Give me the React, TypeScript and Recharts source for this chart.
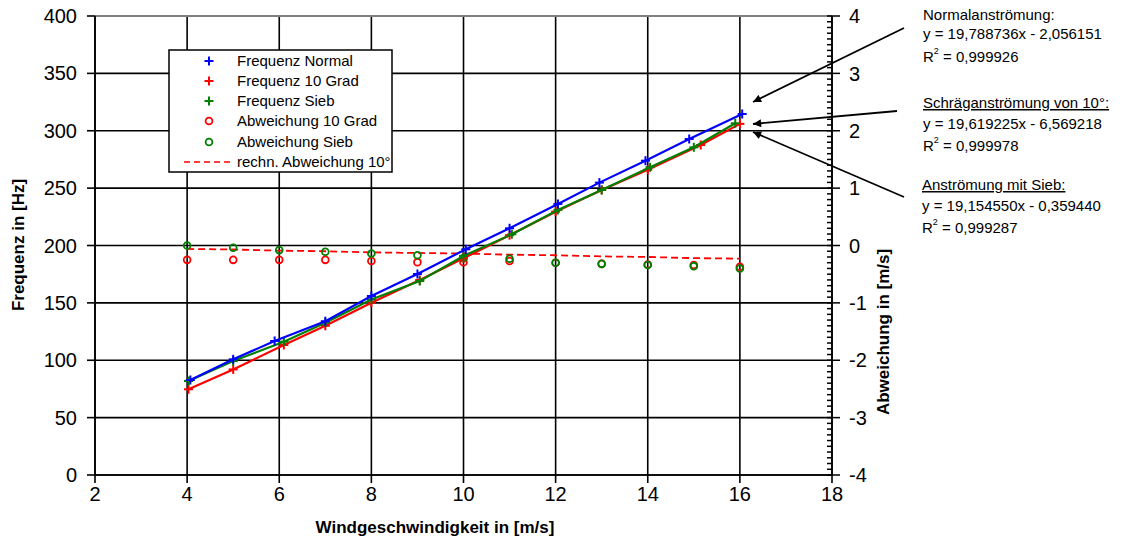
import React from "react";
import {
  ComposedChart,
  Scatter,
  XAxis,
  YAxis,
  CartesianGrid,
  ReferenceLine,
  Legend,
} from "recharts";

const normalX = [4.07, 5.0, 5.9, 7.0, 8.0, 9.0, 10.05, 11.0, 12.05, 12.95, 13.95, 14.9, 16.05];
const normalF = [82.8, 100.8, 116.8, 134, 156, 175.2, 196.7, 215, 236.2, 254.8, 273.9, 292.8, 314.6];
const gradX = [4.03, 5.0, 6.1, 7.0, 8.0, 9.05, 10.0, 11.0, 12.0, 13.0, 14.0, 15.15, 16.0];
const gradF = [74.7, 92, 113.3, 130, 150.2, 170, 188.8, 209, 229.5, 248.4, 266, 287.6, 306];
const siebX = [4.03, 5.0, 6.1, 7.0, 8.0, 9.05, 10.0, 11.05, 12.05, 13.0, 14.05, 15.0, 15.9];
const siebF = [81.9, 99.3, 116.2, 132.7, 153, 169, 190.9, 209.8, 231, 248.4, 268.2, 285.6, 306.5];

const windX = [4, 5, 6, 7, 8, 9, 10, 11, 12, 13, 14, 15, 16];
const abw10 = [-0.25, -0.25, -0.25, -0.25, -0.27, -0.29, -0.29, -0.27, -0.3, -0.32, -0.33, -0.34, -0.37];
const abwSieb = [0.0, -0.04, -0.08, -0.11, -0.14, -0.17, -0.22, -0.23, -0.3, -0.32, -0.34, -0.36, -0.4];
const rechnAbw = [-0.06, -0.07, -0.09, -0.1, -0.12, -0.13, -0.14, -0.16, -0.17, -0.19, -0.2, -0.22, -0.23];

const xTicks = [2, 4, 6, 8, 10, 12, 14, 16, 18];
const leftTicks = [0, 50, 100, 150, 200, 250, 300, 350, 400];
const rightMajor = [-4, -3, -2, -1, 0, 1, 2, 3, 4];
const rightTicks: number[] = [];
for (let i = 0; i < rightMajor.length - 1; i++) {
  for (let k = 0; k < 10; k++) rightTicks.push(Math.round((rightMajor[i] + k / 10) * 10) / 10);
}
rightTicks.push(4);

const zip = (xs: number[], ys: number[]) => xs.map((x, i) => ({ x, y: ys[i] }));

const BLUE = "#0000ff";
const RED = "#ff0000";
const GREEN = "#008000";
const FONT = "Arial, 'Liberation Sans', sans-serif";

const plus = (color: string) => (p: any) => (
  <g stroke={color} strokeWidth={2}>
    <line x1={p.cx - 4.5} y1={p.cy} x2={p.cx + 4.5} y2={p.cy} />
    <line x1={p.cx} y1={p.cy - 4.5} x2={p.cx} y2={p.cy + 4.5} />
  </g>
);
const ring = (color: string) => (p: any) => (
  <circle cx={p.cx} cy={p.cy} r={3.4} fill="none" stroke={color} strokeWidth={1.8} />
);
const none = () => <g />;

function RightTick(props: any) {
  const { x, y, payload } = props;
  const v = payload.value;
  const major = Math.abs(v - Math.round(v)) < 1e-6;
  return (
    <g>
      <line x1={x - 5} y1={y} x2={major ? x + 8 : x} y2={y} stroke="#000" strokeWidth={1.5} />
      {major && (
        <text x={x + 17} y={y} dy="0.36em" fontSize={20} fill="#000" fontFamily={FONT}>
          {v}
        </text>
      )}
    </g>
  );
}

const legendItems = [
  { label: "Frequenz Normal", kind: "plus", color: BLUE },
  { label: "Frequenz 10 Grad", kind: "plus", color: RED },
  { label: "Frequenz Sieb", kind: "plus", color: GREEN },
  { label: "Abweichung 10 Grad", kind: "ring", color: RED },
  { label: "Abweichung Sieb", kind: "ring", color: GREEN },
  { label: "rechn. Abweichung 10°", kind: "dash", color: RED },
];
const legendRows = [12, 32, 52, 72, 93, 113];

function LegendBox() {
  return (
    <svg width={226} height={125} style={{ display: "block" }}>
      <rect x={1} y={1} width={223} height={122} fill="#fff" stroke="#000" strokeWidth={1.5} />
      {legendItems.map((it, i) => {
        const y = legendRows[i];
        return (
          <g key={it.label}>
            {it.kind === "plus" && plus(it.color)({ cx: 41, cy: y })}
            {it.kind === "ring" && ring(it.color)({ cx: 41, cy: y })}
            {it.kind === "dash" && (
              <line x1={16} y1={y} x2={63} y2={y} stroke={it.color} strokeWidth={1.6} strokeDasharray="6 4" />
            )}
            <text x={69} y={y} dy="0.36em" fontSize={15} fontFamily={FONT} fill="#000">
              {it.label}
            </text>
          </g>
        );
      })}
    </svg>
  );
}

function Notes() {
  const t = { fontSize: 15, fontFamily: FONT, fill: "#000" } as const;
  const r2 = (x: number, y: number, val: string) => (
    <text x={x} y={y} {...t}>
      R<tspan fontSize={9} dy={-8}>2</tspan>
      <tspan dy={8}> = {val}</tspan>
    </text>
  );
  return (
    <svg
      width={1133}
      height={557}
      style={{ position: "absolute", left: 0, top: 0, pointerEvents: "none" }}
    >
      <defs>
        <marker id="arr" viewBox="0 0 10 10" refX={10} refY={5} markerWidth={5} markerHeight={4.5} orient="auto">
          <path d="M0,0 L10,5 L0,10 z" fill="#000" />
        </marker>
      </defs>
      <line x1={904} y1={28} x2={753} y2={102} stroke="#000" strokeWidth={1.8} markerEnd="url(#arr)" />
      <line x1={897} y1={111} x2={753} y2={124} stroke="#000" strokeWidth={1.8} markerEnd="url(#arr)" />
      <line x1={904} y1={197} x2={753} y2={132} stroke="#000" strokeWidth={1.8} markerEnd="url(#arr)" />

      <text x={923} y={20} {...t}>Normalanströmung:</text>
      <text x={923} y={39} {...t}>y = 19,788736x - 2,056151</text>
      {r2(923, 62, "0,999926")}

      <text x={923} y={108} {...t} textDecoration="underline">Schräganströmung von 10°:</text>
      <text x={923} y={129} {...t}>y = 19,619225x - 6,569218</text>
      {r2(923, 151, "0,999978")}

      <text x={922} y={190} {...t} textDecoration="underline">Anströmung mit Sieb:</text>
      <text x={922} y={211} {...t}>y = 19,154550x - 0,359440</text>
      {r2(922, 233, "0,999287")}

      <text x={435} y={533} textAnchor="middle" fontSize={17} fontWeight="bold" fontFamily={FONT}>
        Windgeschwindigkeit in [m/s]
      </text>
      <text
        transform="translate(24,245) rotate(-90)"
        textAnchor="middle"
        fontSize={17}
        fontWeight="bold"
        fontFamily={FONT}
      >
        Frequenz in [Hz]
      </text>
      <text
        transform="translate(889,332) rotate(-90)"
        textAnchor="middle"
        fontSize={17}
        fontWeight="bold"
        fontFamily={FONT}
      >
        Abweichung in [m/s]
      </text>
    </svg>
  );
}

export default function App() {
  const axisStyle = { stroke: "#000", strokeWidth: 1.6 };
  return (
    <div style={{ position: "relative", width: 1133, height: 557, background: "#fff" }}>
      <style>{"body{margin:0}"}</style>
      <ComposedChart
        width={1133}
        height={557}
        margin={{ top: 16, right: 221, bottom: 0, left: 0 }}
        style={{ fontFamily: FONT }}
      >
        <CartesianGrid yAxisId="left" stroke="#000" strokeWidth={1.6} />
        <XAxis
          type="number"
          dataKey="x"
          domain={[2, 18]}
          ticks={xTicks}
          interval={0}
          allowDataOverflow
          height={82}
          tickSize={8}
          tickMargin={4}
          axisLine={axisStyle}
          tickLine={axisStyle}
          tick={{ fill: "#000", fontSize: 20 }}
        />
        <YAxis
          yAxisId="left"
          type="number"
          dataKey="y"
          domain={[0, 400]}
          ticks={leftTicks}
          interval={0}
          width={95}
          tickSize={8}
          tickMargin={10}
          axisLine={axisStyle}
          tickLine={axisStyle}
          tick={{ fill: "#000", fontSize: 20 }}
        />
        <YAxis
          yAxisId="right"
          orientation="right"
          type="number"
          dataKey="y"
          domain={[-4, 4]}
          ticks={rightTicks}
          interval={0}
          width={80}
          tickSize={0}
          tickMargin={0}
          tickLine={false}
          axisLine={axisStyle}
          tick={<RightTick />}
        />
        <ReferenceLine yAxisId="left" y={400} stroke="#808080" strokeWidth={2} />
        <Legend
          layout="horizontal"
          verticalAlign="middle"
          align="center"
          content={() => <LegendBox />}
          wrapperStyle={{ position: "absolute", left: 168, top: 49, width: "auto", height: "auto" }}
        />
        <Scatter
          name="rechn. Abweichung 10°"
          yAxisId="right"
          data={zip(windX, rechnAbw)}
          line={{ stroke: RED, strokeWidth: 1.8, strokeDasharray: "7 4" }}
          lineType="joint"
          shape={none}
          isAnimationActive={false}
        />
        <Scatter
          name="Abweichung 10 Grad"
          yAxisId="right"
          data={zip(windX, abw10)}
          shape={ring(RED)}
          isAnimationActive={false}
        />
        <Scatter
          name="Abweichung Sieb"
          yAxisId="right"
          data={zip(windX, abwSieb)}
          shape={ring(GREEN)}
          isAnimationActive={false}
        />
        <Scatter
          name="Frequenz 10 Grad"
          yAxisId="left"
          data={zip(gradX, gradF)}
          line={{ stroke: RED, strokeWidth: 2.2 }}
          lineType="joint"
          shape={plus(RED)}
          isAnimationActive={false}
        />
        <Scatter
          name="Frequenz Sieb"
          yAxisId="left"
          data={zip(siebX, siebF)}
          line={{ stroke: GREEN, strokeWidth: 2.2 }}
          lineType="joint"
          shape={plus(GREEN)}
          isAnimationActive={false}
        />
        <Scatter
          name="Frequenz Normal"
          yAxisId="left"
          data={zip(normalX, normalF)}
          line={{ stroke: BLUE, strokeWidth: 2.2 }}
          lineType="joint"
          shape={plus(BLUE)}
          isAnimationActive={false}
        />
      </ComposedChart>
      <Notes />
    </div>
  );
}
